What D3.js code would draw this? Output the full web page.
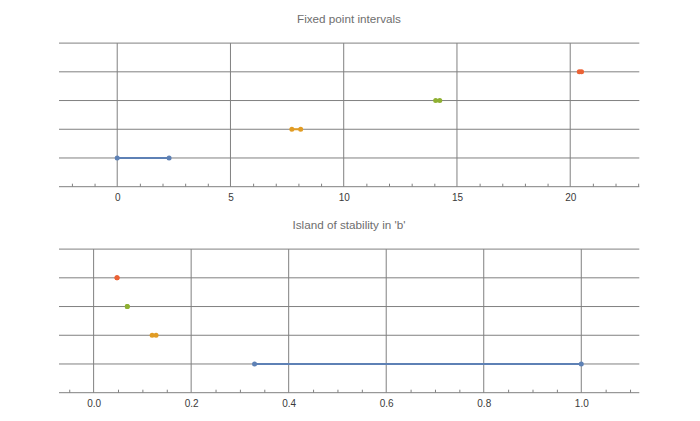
<!DOCTYPE html>
<html><head><meta charset="utf-8">
<script src="https://cdn.jsdelivr.net/npm/d3@7"></script>
<style>body{margin:0;background:#fff}svg{display:block}</style>
</head><body>
<svg id="c" width="700" height="421"></svg>
<script>
// ---- data ----
const levels = [1, 2, 3, 4];
const seriesColors = ["#5E81B5", "#E19C24", "#8FB032", "#EB6235"];

const fixedTitle = "Fixed point intervals";
const fixedStart = [0, 7.71, 14.06, 20.40];
const fixedEnd   = [2.29, 8.10, 14.24, 20.50];
const fixedTicks = [0, 5, 10, 15, 20];
const fixedMinor = [-2,-1,1,2,3,4,6,7,8,9,11,12,13,14,16,17,18,19,21,22,23];

const islandTitle = "Island of stability in 'b'";
const islandStart = [0.33, 0.12, 0.069, 0.048];
const islandEnd   = [1.0, 0.128, 0.069, 0.048];
const islandTicks = [0, 0.2, 0.4, 0.6, 0.8, 1.0];
const islandMinor = [-0.05,0.05,0.1,0.15,0.25,0.3,0.35,0.45,0.5,0.55,0.65,0.7,0.75,0.85,0.9,0.95,1.05,1.1];

const yGrid = [1, 2, 3, 4, 5];

// ---- drawing ----
const svg = d3.select("#c");
const gridColor = "#808080";

function panel(cfg) {
  const x = d3.scaleLinear().domain(cfg.xDomain).range([59, 639.3]);
  const y = d3.scaleLinear().domain([0, 5]).range([cfg.bottom, cfg.bottom - 143.6]);
  const g = svg.append("g");

  g.append("text").attr("x", 349).attr("y", cfg.bottom - 163.4)
    .attr("text-anchor", "middle").attr("font-family", "Liberation Sans, Arial, sans-serif")
    .attr("font-size", 11.7).attr("fill", "#6e6e6e").text(cfg.title);

  // horizontal grid
  g.selectAll(".hg").data(yGrid).join("line")
    .attr("x1", x.range()[0]).attr("x2", x.range()[1])
    .attr("y1", d => y(d)).attr("y2", d => y(d))
    .attr("stroke", gridColor).attr("stroke-width", 1);
  // vertical grid
  g.selectAll(".vg").data(cfg.ticks).join("line")
    .attr("x1", d => x(d)).attr("x2", d => x(d))
    .attr("y1", y(0)).attr("y2", y(5))
    .attr("stroke", gridColor).attr("stroke-width", 1);

  // minor ticks axis
  const minorAxis = d3.axisBottom(x).tickValues(cfg.minor).tickSize(-3).tickFormat("");
  const ma = g.append("g").attr("transform", `translate(0,${y(0)})`).call(minorAxis);
  ma.select(".domain").remove();
  ma.selectAll(".tick line").attr("stroke", gridColor);

  // major axis with labels
  const majorAxis = d3.axisBottom(x).tickValues(cfg.ticks).tickSize(0).tickPadding(7).tickFormat(cfg.fmt);
  const a = g.append("g").attr("transform", `translate(0,${y(0)})`).call(majorAxis);
  a.select(".domain").remove();
  a.selectAll(".tick text").attr("font-family", "Liberation Sans, Arial, sans-serif")
    .attr("font-size", 10).attr("fill", "#3a3a3a");
  g.append("line").attr("x1", x.range()[0]).attr("x2", x.range()[1])
    .attr("y1", y(0)).attr("y2", y(0)).attr("stroke", gridColor).attr("stroke-width", 1);

  // intervals
  const data = levels.map((lv, i) => ({lv, s: cfg.start[i], e: cfg.end[i], c: seriesColors[i]}));
  g.selectAll(".iv").data(data).join("line")
    .attr("x1", d => x(d.s)).attr("x2", d => x(d.e))
    .attr("y1", d => y(d.lv)).attr("y2", d => y(d.lv))
    .attr("stroke", d => d.c).attr("stroke-width", 2);
  const pts = data.flatMap(d => [{x: d.s, lv: d.lv, c: d.c}, {x: d.e, lv: d.lv, c: d.c}]);
  g.selectAll(".pt").data(pts).join("circle")
    .attr("cx", d => x(d.x)).attr("cy", d => y(d.lv)).attr("r", 2.5)
    .attr("fill", d => d.c);
}

panel({title: fixedTitle, xDomain: [-2.57, 23.05], bottom: 186.7,
  start: fixedStart, end: fixedEnd, ticks: fixedTicks, minor: fixedMinor, fmt: d3.format("d")});
panel({title: islandTitle, xDomain: [-0.071, 1.119], bottom: 392.7,
  start: islandStart, end: islandEnd, ticks: islandTicks, minor: islandMinor, fmt: d3.format(".1f")});
</script>
</body></html>
